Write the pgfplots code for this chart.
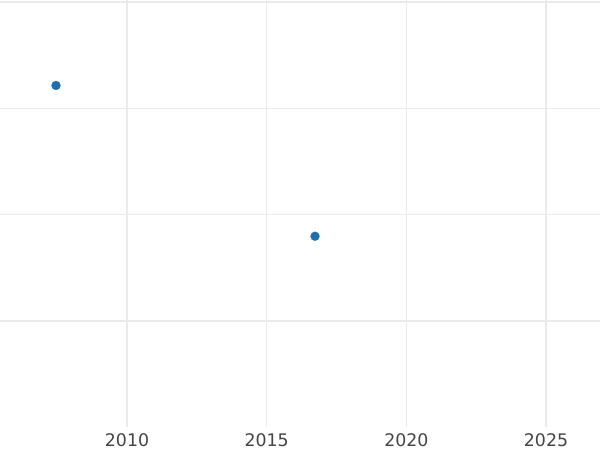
\documentclass[border=0pt]{standalone}
\usepackage{pgfplots}
\pgfplotsset{compat=1.18}
\usepackage{fontspec}
\setmainfont{DejaVu Sans}
\definecolor{gridc}{HTML}{EBEBEB}
\definecolor{ptc}{HTML}{1F6FB0}
\definecolor{labc}{HTML}{444444}
\begin{document}
\begin{tikzpicture}
\begin{axis}[
  at={(0,0)}, anchor=south west,
  scale only axis,
  width=450pt, height=320.25pt,
  xmin=2005.453, xmax=2026.933,
  ymin=0.003, ymax=4.019,
  axis line style={draw=none},
  xtick={2015,2020,2025},
  extra x ticks={2010},
  extra x tick style={grid style={gridc, line width=1.5pt}},
  xticklabels={2015,2020,2025},
  extra x tick labels={2010},
  ytick={1,2,3,4},
  yticklabels={},
  major tick length=0pt,
  grid=major,
  grid style={gridc, line width=1pt},
  /pgf/number format/assume math mode=true,
  xticklabel style={font=\fontsize{13}{15}\selectfont, text=labc, anchor=base, yshift=-14.8pt},
  clip=false,
]
\addplot[only marks, mark=*, mark size=3.4pt, mark options={draw=ptc, fill=ptc, line width=0.1pt}] coordinates {
  (2007.458,3.215)
  (2016.73,1.797)
};
\end{axis}
\pgfresetboundingbox
\path[use as bounding box] (0,-17.25pt) rectangle (450pt,320.25pt);
\end{tikzpicture}
\end{document}
